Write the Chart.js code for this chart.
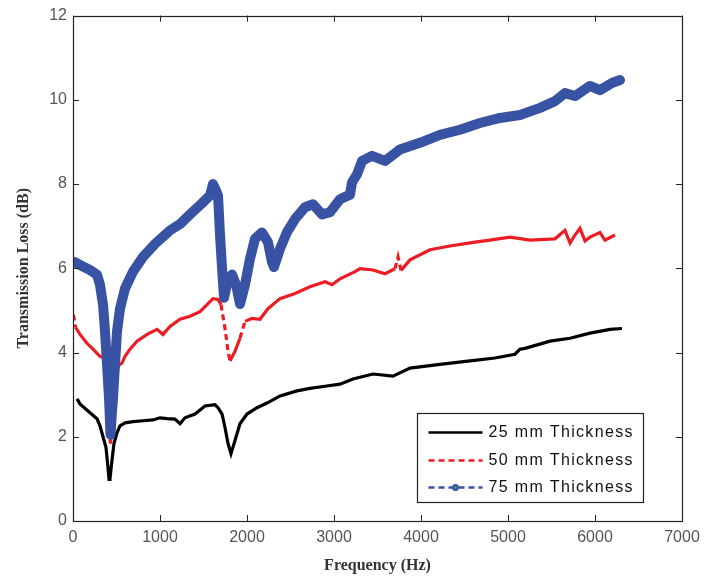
<!DOCTYPE html>
<html>
<head>
<meta charset="utf-8">
<title>Transmission Loss vs Frequency</title>
<script src="https://cdn.jsdelivr.net/npm/chart.js@4.4.1/dist/chart.umd.min.js"></script>
<style>
  html, body { margin: 0; padding: 0; background: #fff; }
  #tlChart { display: block; }
</style>
</head>
<body>
<canvas id="tlChart" width="718" height="580"></canvas>
<script>
// measured transmission loss, three panel thicknesses
const seriesLabels = ['25 mm Thickness', '50 mm Thickness', '75 mm Thickness'];

const freq25 = [46, 80, 195, 276, 310, 345, 379, 402, 414, 425, 448, 471, 506, 540, 598, 690, 805, 920, 1000, 1080,
  1172, 1230, 1287, 1402, 1517, 1632, 1667, 1713, 1747, 1782, 1816, 1862, 1919, 2000, 2115, 2230, 2380, 2575, 2724, 2897,
  3069, 3218, 3448, 3678, 3874, 4218, 4563, 4850, 5080, 5138, 5195, 5483, 5713, 5942, 6172, 6310];
const tl25 = [2.90, 2.78, 2.57, 2.43, 2.26, 2.00, 1.75, 1.27, 0.99, 1.00, 1.44, 1.84, 2.10, 2.26, 2.33, 2.36, 2.38, 2.40, 2.45, 2.43,
  2.42, 2.31, 2.45, 2.54, 2.73, 2.76, 2.69, 2.54, 2.22, 1.84, 1.60, 1.91, 2.31, 2.54, 2.69, 2.80, 2.97, 3.09, 3.15, 3.20,
  3.25, 3.37, 3.49, 3.44, 3.63, 3.72, 3.80, 3.87, 3.96, 4.08, 4.10, 4.27, 4.34, 4.46, 4.55, 4.57];

const freq50 = [5, 30, 80, 161, 230, 310, 368, 391, 414, 431, 448, 483, 517, 563, 598, 655, 736, 851, 966, 1034,
  1115, 1230, 1345, 1460, 1575, 1609, 1667, 1701, 1747, 1782, 1805, 1862, 1919, 1977, 2057, 2149, 2241, 2379, 2552, 2724,
  2897, 2977, 3069, 3241, 3299, 3448, 3586, 3701, 3736, 3770, 3874, 4103, 4333, 4620, 4793, 5023, 5253, 5540, 5655, 5713,
  5770, 5827, 5885, 5942, 6057, 6115, 6230];
const tl50 = [4.90, 4.60, 4.43, 4.22, 4.08, 3.91, 3.87, 3.50, 2.60, 1.80, 2.40, 3.30, 3.68, 3.75, 3.91, 4.08, 4.27, 4.43, 4.55, 4.43,
  4.62, 4.79, 4.86, 4.97, 5.21, 5.28, 5.26, 5.14, 4.57, 4.03, 3.80, 4.03, 4.34, 4.74, 4.81, 4.79, 5.04, 5.28, 5.40, 5.56,
  5.68, 5.61, 5.75, 5.92, 5.99, 5.96, 5.87, 5.99, 6.27, 5.95, 6.20, 6.44, 6.53, 6.62, 6.67, 6.74, 6.67, 6.70, 6.90, 6.60,
  6.79, 6.95, 6.65, 6.74, 6.85, 6.67, 6.79];

const freq75 = [20, 80, 195, 276, 310, 345, 368, 391, 414, 431, 448, 460, 483, 506, 540, 598, 690, 805, 943, 1057,
  1115, 1230, 1345, 1460, 1575, 1609, 1632, 1667, 1690, 1713, 1736, 1782, 1828, 1874, 1920, 1977, 2034, 2092, 2172, 2241,
  2287, 2310, 2379, 2460, 2552, 2667, 2759, 2862, 2954, 3069, 3184, 3207, 3264, 3322, 3437, 3586, 3758, 3988, 4218, 4448,
  4678, 4908, 5138, 5368, 5540, 5655, 5770, 5942, 6057, 6195, 6287];
const tl75 = [6.15, 6.08, 5.96, 5.85, 5.61, 5.14, 4.50, 3.72, 2.92, 2.05, 2.60, 2.92, 3.72, 4.50, 5.04, 5.52, 5.92, 6.27, 6.58, 6.79,
  6.90, 7.05, 7.28, 7.50, 7.73, 8.00, 7.90, 7.73, 6.79, 6.00, 5.30, 5.75, 5.85, 5.61, 5.15, 5.61, 6.22, 6.70, 6.85, 6.62,
  6.15, 6.03, 6.46, 6.86, 7.17, 7.45, 7.52, 7.28, 7.33, 7.64, 7.75, 8.04, 8.23, 8.55, 8.67, 8.55, 8.82, 8.98, 9.17, 9.29,
  9.45, 9.57, 9.64, 9.81, 9.97, 10.16, 10.09, 10.33, 10.23, 10.40, 10.47];

const xRange = [0, 7000];
const yRange = [0, 12];

const toPoints = (xs, ys) => xs.map((x, i) => ({ x: x, y: ys[i] }));

// steep parts of the dense dashed trace show their dashes, the rest reads as solid
const steepDash = ctx => {
  const dx = Math.abs(ctx.p1.x - ctx.p0.x);
  const dy = Math.abs(ctx.p1.y - ctx.p0.y);
  return dy > 2 * dx + 4 ? [6, 4] : undefined;
};

// inward tick marks on all four sides plus the frame
const frameTicks = {
  id: 'frameTicks',
  afterDatasetsDraw(chart) {
    const { ctx, chartArea: a, scales: { x, y } } = chart;
    const len = 6;
    ctx.save();
    ctx.strokeStyle = '#222';
    ctx.lineWidth = 1;
    ctx.beginPath();
    x.ticks.forEach(t => {
      const px = Math.round(x.getPixelForValue(t.value)) + 0.5;
      ctx.moveTo(px, a.bottom); ctx.lineTo(px, a.bottom - len);
      ctx.moveTo(px, a.top); ctx.lineTo(px, a.top + len);
    });
    y.ticks.forEach(t => {
      const py = Math.round(y.getPixelForValue(t.value)) + 0.5;
      ctx.moveTo(a.left, py); ctx.lineTo(a.left + len, py);
      ctx.moveTo(a.right, py); ctx.lineTo(a.right - len, py);
    });
    ctx.stroke();
    ctx.lineWidth = 1.2;
    ctx.strokeRect(Math.round(a.left) + 0.5, Math.round(a.top) + 0.5, Math.round(a.width), Math.round(a.height));
    ctx.restore();
  }
};

// boxed legend in the lower right corner of the plot
const boxLegend = {
  id: 'boxLegend',
  afterDraw(chart) {
    const { ctx, chartArea: a } = chart;
    const w = 226, h = 89;
    const x0 = Math.round(a.right - 265) + 0.5;
    const y0 = Math.round(a.bottom - 108) + 0.5;
    ctx.save();
    ctx.fillStyle = '#fff';
    ctx.fillRect(x0, y0, w, h);
    ctx.strokeStyle = '#222';
    ctx.lineWidth = 1.2;
    ctx.strokeRect(x0, y0, w, h);

    const rows = [19, 47, 74];
    ctx.font = '16px "Liberation Sans", Arial, sans-serif';
    ctx.textBaseline = 'middle';
    ctx.fillStyle = '#111';
    chart.data.datasets.forEach((ds, i) => {
      const ry = y0 + rows[i];
      const lx0 = x0 + 11, lx1 = x0 + 65;
      ctx.strokeStyle = ds.borderColor;
      ctx.lineWidth = 2.5;
      ctx.setLineDash(i === 0 ? [] : [6, 4]);
      ctx.beginPath();
      ctx.moveTo(lx0, ry); ctx.lineTo(lx1, ry);
      ctx.stroke();
      ctx.setLineDash([]);
      if (i === 2) {
        ctx.fillStyle = ds.borderColor;
        ctx.beginPath();
        ctx.arc((lx0 + lx1) / 2, ry, 3.5, 0, Math.PI * 2);
        ctx.fill();
        ctx.fillStyle = '#4caf50';
        ctx.fillRect((lx0 + lx1) / 2 - 1, ry - 1, 2, 2);
        ctx.fillStyle = '#111';
      }
      // spread the label out to its printed width
      const label = seriesLabels[i];
      ctx.letterSpacing = '0px';
      const natural = ctx.measureText(label).width;
      const spacing = Math.max(0, (144 - natural) / (label.length - 1));
      ctx.letterSpacing = spacing.toFixed(2) + 'px';
      ctx.fillText(label, x0 + 71, ry);
    });
    ctx.restore();
  }
};

const tickFont = { family: '"Liberation Sans", Arial, sans-serif', size: 16 };
const titleFont = { family: '"Liberation Serif", "Times New Roman", serif', size: 16, weight: 'bold' };

const chart = new Chart(document.getElementById('tlChart'), {
  type: 'line',
  data: {
    datasets: [
      {
        label: seriesLabels[0],
        data: toPoints(freq25, tl25),
        borderColor: '#000000',
        borderWidth: 3.2,
        pointRadius: 0,
        order: 3
      },
      {
        label: seriesLabels[1],
        data: toPoints(freq50, tl50),
        borderColor: '#ed1c24',
        borderWidth: 3.2,
        pointRadius: 0,
        segment: { borderDash: steepDash },
        order: 2
      },
      {
        label: seriesLabels[2],
        data: toPoints(freq75, tl75),
        borderColor: '#3953a4',
        borderWidth: 10,
        borderJoinStyle: 'round',
        borderCapStyle: 'round',
        pointRadius: 0,
        order: 1
      }
    ]
  },
  options: {
    responsive: false,
    animation: false,
    devicePixelRatio: 1,
    layout: { padding: { left: 0, top: 12, right: 36, bottom: 0 } },
    plugins: {
      legend: { display: false },
      tooltip: { enabled: false }
    },
    scales: {
      x: {
        type: 'linear',
        min: xRange[0],
        max: xRange[1],
        grid: { display: false, drawTicks: false },
        border: { display: false },
        ticks: {
          stepSize: 1000,
          padding: 7,
          color: '#555',
          font: tickFont,
          maxRotation: 0,
          callback: v => String(v)
        },
        title: {
          display: true,
          text: 'Frequency (Hz)',
          color: '#333',
          font: titleFont,
          padding: { top: 0, bottom: 5 }
        },
        afterFit: scale => { scale.height = 59; }
      },
      y: {
        type: 'linear',
        min: yRange[0],
        max: yRange[1],
        grid: { display: false, drawTicks: false },
        border: { display: false },
        ticks: {
          stepSize: 2,
          padding: 6,
          color: '#555',
          font: tickFont,
          callback: v => String(v)
        },
        title: {
          display: true,
          text: 'Transmission Loss (dB)',
          color: '#333',
          font: titleFont,
          padding: { top: 14, bottom: 0 }
        },
        afterFit: scale => { scale.width = 73; }
      }
    }
  },
  plugins: [frameTicks, boxLegend]
});
</script>
</body>
</html>
